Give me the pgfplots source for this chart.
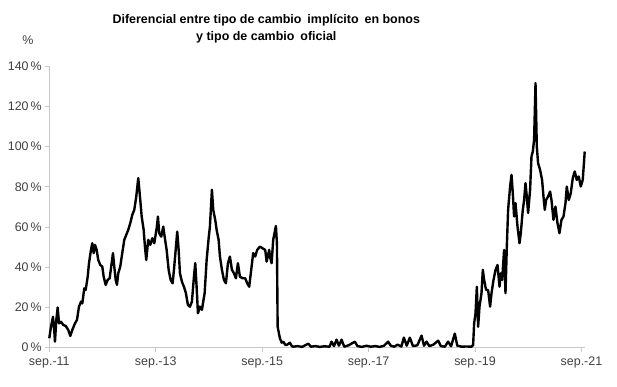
\documentclass[border=0pt]{standalone}
\usepackage{fontspec}
\setmainfont{Liberation Sans}
\usepackage{pgfplots}
\pgfplotsset{compat=1.18}
\definecolor{axgray}{HTML}{C8C8C8}
\definecolor{txtgray}{HTML}{404040}
\begin{document}
\begin{tikzpicture}[x=1bp,y=1bp]
\useasboundingbox (-49.3bp,-39.3bp) rectangle (567.7bp,347.7bp);
\begin{axis}[
  at={(0bp,0bp)}, anchor=origin,
  scale only axis, width=535.7bp, height=281.7bp,
  xmin=0, xmax=120.8, ymin=0, ymax=140,
  axis x line*=bottom, axis y line*=left,
  axis line style={axgray, line width=0.8pt, -},
  xtick={0,24,48,72,96,120},
  xticklabels={sep.-11,sep.-13,sep.-15,sep.-17,sep.-19,sep.-21},
  ytick={0,20,40,60,80,100,120,140},
  yticklabel={\pgfmathprintnumber{\tick}\,\%},
  /pgf/number format/assume math mode=true,
  tick style={axgray, line width=0.8pt},
  tick align=outside, major tick length=4bp,
  ticklabel style={font=\fontsize{12.5}{14}\selectfont, text=txtgray},
  xticklabel style={yshift=-2bp},
  xtick pos=bottom, ytick pos=left,
  clip=false,
]
\addplot[black, line width=2.4pt, line join=round] coordinates {
(0,4.7)(0.38,10.4)(0.83,15.4)(1.13,8)(1.28,3)(1.58,13.8)(1.89,20)(2.19,12.1)(2.64,12.9)(3.16,11.3)(3.70,10.8)(4.28,8.8)(4.73,5.8)(5.18,8.8)(5.79,12.1)(6.24,13.8)(6.69,20.4)(7.15,22.9)(7.44,22)(7.89,29.5)(8.20,28.7)(8.66,35.3)(8.95,42)(9.40,48.6)(9.69,51.9)(10.01,47)(10.30,51.1)(10.68,48.6)(11.04,43.6)(11.50,41.1)(11.95,40.3)(12.26,35.3)(12.71,31.2)(13.16,33.7)(13.61,34.5)(14.06,42)(14.36,47)(14.65,40.3)(14.97,33.7)(15.26,31.2)(15.55,37)(16.00,40.3)(16.45,47)(16.91,53.6)(17.36,56.1)(17.81,58.6)(18.26,61.9)(18.71,66)(19.16,68.5)(19.61,75.1)(20.06,84.3)(20.38,76.8)(20.83,65.2)(21.28,58.6)(21.57,50.2)(21.86,43.6)(22.31,53.6)(22.77,51.1)(23.22,54.4)(23.67,51.9)(24.21,59.4)(24.50,65.2)(24.79,56.9)(25.24,55.2)(25.70,60.2)(26.01,55.2)(26.46,48.6)(26.91,38.7)(27.36,33.7)(27.81,32)(28.11,38.7)(28.56,50.2)(28.85,57.7)(29.17,48.6)(29.46,37)(29.91,32.8)(30.36,30.3)(30.81,27.1)(31.26,21.2)(31.71,20.4)(32.16,22.9)(32.62,35.3)(32.91,42)(33.22,30.3)(33.52,17.1)(33.97,20.4)(34.42,18.8)(34.71,22.9)(35.03,27.1)(35.48,43.6)(35.93,54.4)(36.22,60.2)(36.67,78.5)(36.97,68.5)(37.42,63.5)(37.73,58.6)(38.18,53.6)(38.48,45.3)(38.93,38.7)(39.38,33.7)(39.83,32)(40.28,42)(40.73,45.3)(41.18,38.7)(41.63,37)(42.08,34.5)(42.53,42)(42.98,35.3)(43.59,34.5)(44.18,34.5)(44.63,32)(45.08,30.3)(45.53,38.7)(45.98,47)(46.43,45.3)(46.88,48.6)(47.49,50.2)(48.10,49.4)(48.69,48.6)(49.00,42.8)(49.59,48.6)(49.75,45.3)(50.13,42)(50.49,53.6)(51.10,60.5)(51.33,51.9)(51.49,10.4)(52.0,4.7)(52.4,2.5)(52.74,3)(53.2,1.5)(53.51,1.3)(54.25,2.5)(54.7,0.8)
(55,0.5)(56,0.8)(57,0.4)(58.4,2.0)(59,0.5)(60,0.8)(61,0.4)(62,0.7)(63.2,0.5)(63.65,3)(64.2,0.8)(64.78,4)(65.3,1)(65.91,4)(66.5,0.5)(67.5,1.2)(68.9,3)(69.5,0.8)(70.5,0.4)(71.5,1)(72.5,0.5)(73.5,0.8)(74.5,0.4)(75.5,1)(76.41,3)(77,1)(77.8,0.5)(78.5,1.5)(79.4,0.6)(79.95,5)(80.6,1)(81.3,5)(82,0.8)(83,1.2)(83.94,6)(84.5,1)(85.07,3)(85.7,0.8)(86.6,1.5)(87.68,3.5)(88.3,0.8)(89.2,0.5)(89.93,3)(90.6,0.7)(91.44,7)(92,1)(93,0.5)(94,0.6)(95.2,0.5)(95.57,1.3)
(95.80,12.1)(96.11,17.1)(96.41,30.3)(96.70,10.4)(97.01,20.4)(97.46,27.1)(97.76,38.7)(98.05,33.7)(98.50,28.7)(98.95,28.7)(99.40,20.4)(99.72,27.1)(100.17,33.7)(100.62,38.7)(101.07,41.1)(101.52,30.3)(101.81,37)(102.11,33.7)(102.56,48.6)(102.87,27.1)(103.17,50.2)(103.46,68.5)(103.91,80.1)(104.23,85.9)(104.52,76.8)(104.81,65.2)(105.13,71.9)(105.58,60.2)(106.03,51.9)(106.32,56.9)(106.77,68.5)(107.07,73.4)(107.38,81.8)(107.68,75.1)(107.97,66.9)(108.42,78.5)(108.73,95)(109.03,97.5)(109.32,103.3)(109.64,131.5)(109.93,100)(110.22,91.7)(110.67,88.4)(111.12,83.4)(111.44,75.1)(111.73,68.5)(112.02,73.4)(112.47,75.1)(112.93,77.6)(113.24,73.4)(113.69,63.5)(114.14,70.1)(114.59,61.9)(115.04,56.9)(115.49,63.5)(115.95,65.2)(116.40,71.9)(116.69,80.1)(117.14,73.4)(117.59,76.8)(118.04,84.3)(118.49,87.6)(118.94,83.4)(119.39,85.1)(119.84,80.1)(120.29,83.4)(120.74,97.5)
};
\end{axis}
\node[font=\fontsize{12.5}{16.5}\selectfont\bfseries, text=black, align=center] at (217bp,319bp) {Diferencial entre tipo de cambio\hspace{2.5pt} implícito\hspace{2.5pt} en bonos\\y tipo de cambio\hspace{2.5pt} oficial};
\node[font=\fontsize{12.5}{14}\selectfont, text=txtgray] at (-21.3bp,307.7bp) {\%};
\end{tikzpicture}
\end{document}
